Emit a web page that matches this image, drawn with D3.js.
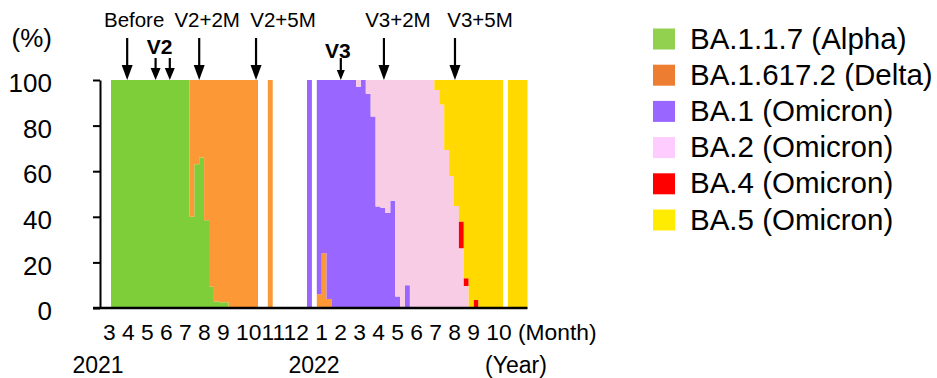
<!DOCTYPE html>
<html>
<head>
<meta charset="utf-8">
<script src="https://cdn.jsdelivr.net/npm/d3@7"></script>
<style>
  html, body { margin: 0; padding: 0; background: #fff; }
  svg { display: block; font-family: "Liberation Sans", Arial, sans-serif; }
</style>
</head>
<body>
<div id="chart"></div>
<script>
// weekly variant share (%), week 0 = first week of March 2021
const alpha = [
  100, 100, 100, 100, 100, 100, 100, 100, 100, 100,
  100, 100, 100, 100, 100, 100, 40, 63, 66, 38.5,
  9.3, 2.8, 2.5, 2.5, 0, 0, 0, 0, 0, 0,
  0, 0, 0, 0, 0, 0, 0, 0, 0, 0,
  0, 0, 0, 0, 0, 0, 0, 0, 0, 0,
  0, 0, 0, 0, 0, 0, 0, 0, 0, 0,
  0, 0, 0, 0, 0, 0, 0, 0, 0, 0,
  0, 0, 0, 0, 0, 0, 0, 0, 0, 0,
  0, 0, 0, 0, 0
]
const delta = [
  0, 0, 0, 0, 0, 0, 0, 0, 0, 0,
  0, 0, 0, 0, 0, 0, 60, 37, 34, 61.5,
  90.7, 97.2, 97.5, 97.5, 100, 100, 100, 100, 100, 100,
  0, 0, 100, 0, 0, 0, 0, 0, 0, 0,
  0, 0, 6, 24, 4, 0, 0, 0, 0, 0,
  0, 0, 0, 0, 0, 0, 0, 0, 0, 0,
  0, 0, 0, 0, 0, 0, 0, 0, 0, 0,
  0, 0, 0, 0, 0, 0, 0, 0, 0, 0,
  0, 0, 0, 0, 0
]
const ba1 = [
  0, 0, 0, 0, 0, 0, 0, 0, 0, 0,
  0, 0, 0, 0, 0, 0, 0, 0, 0, 0,
  0, 0, 0, 0, 0, 0, 0, 0, 0, 0,
  0, 0, 0, 0, 0, 0, 0, 0, 0, 0,
  100, 0, 94, 76, 96, 100, 100, 100, 100, 100,
  97, 100, 94, 84, 44.5, 44, 41.7, 47, 5, 0,
  10, 0, 0, 0, 0, 0, 0, 0, 0, 0,
  0, 0, 0, 0, 0, 0, 0, 0, 0, 0,
  0, 0, 0, 0, 0
]
const ba2 = [
  0, 0, 0, 0, 0, 0, 0, 0, 0, 0,
  0, 0, 0, 0, 0, 0, 0, 0, 0, 0,
  0, 0, 0, 0, 0, 0, 0, 0, 0, 0,
  0, 0, 0, 0, 0, 0, 0, 0, 0, 0,
  0, 0, 0, 0, 0, 0, 0, 0, 0, 0,
  3, 0, 6, 16, 55.5, 56, 58.3, 53, 95, 100,
  90, 100, 100, 100, 100, 100, 95.6, 89.3, 69.3, 57.9,
  44.7, 26.2, 9.6, 0, 0, 0, 0, 0, 0, 0,
  0, 0, 0, 0, 0
]
const ba4 = [
  0, 0, 0, 0, 0, 0, 0, 0, 0, 0,
  0, 0, 0, 0, 0, 0, 0, 0, 0, 0,
  0, 0, 0, 0, 0, 0, 0, 0, 0, 0,
  0, 0, 0, 0, 0, 0, 0, 0, 0, 0,
  0, 0, 0, 0, 0, 0, 0, 0, 0, 0,
  0, 0, 0, 0, 0, 0, 0, 0, 0, 0,
  0, 0, 0, 0, 0, 0, 0, 0, 0, 0,
  0, 11.7, 3.4, 0, 3.5, 0, 0, 0, 0, 0,
  0, 0, 0, 0, 0
]
const ba5 = [
  0, 0, 0, 0, 0, 0, 0, 0, 0, 0,
  0, 0, 0, 0, 0, 0, 0, 0, 0, 0,
  0, 0, 0, 0, 0, 0, 0, 0, 0, 0,
  0, 0, 0, 0, 0, 0, 0, 0, 0, 0,
  0, 0, 0, 0, 0, 0, 0, 0, 0, 0,
  0, 0, 0, 0, 0, 0, 0, 0, 0, 0,
  0, 0, 0, 0, 0, 0, 4.4, 10.7, 30.7, 42.1,
  55.3, 62.1, 87, 100, 96.5, 100, 100, 100, 100, 100,
  0, 100, 100, 100, 100
]

const seriesKeys = ['alpha', 'delta', 'ba1', 'ba2', 'ba4', 'ba5']
const seriesNames = ['BA.1.1.7 (Alpha)', 'BA.1.617.2 (Delta)', 'BA.1 (Omicron)', 'BA.2 (Omicron)', 'BA.4 (Omicron)', 'BA.5 (Omicron)']
const barColors = ['#7ece3a', '#fd9836', '#9966ff', '#f7cce4', '#ff0000', '#ffd900']
const legendColors = ['#92d050', '#ed7d31', '#9966ff', '#ffccff', '#ff0000', '#ffec00']

const monthLabels = ['3', '4', '5', '6', '7', '8', '9', '10', '11', '12', '1', '2', '3', '4', '5', '6', '7', '8', '9', '10']
const yearLabels = ['2021', '2022']
const yTicks = [0, 20, 40, 60, 80, 100]

// sampling time points (week index) and vaccine dose arrows
const timePoints = [
  { label: 'Before', week: 3.3 },
  { label: 'V2+2M', week: 18 },
  { label: 'V2+5M', week: 29.6 },
  { label: 'V3+2M', week: 55.7 },
  { label: 'V3+5M', week: 70.2 },
]
const doses = [
  { label: 'V2', weeks: [9.1, 12] },
  { label: 'V3', weeks: [46.9] },
]

const width = 937, height = 378
const nWeeks = alpha.length
const table = alpha.map((_, i) => ({
  week: i, alpha: alpha[i], delta: delta[i], ba1: ba1[i], ba2: ba2[i], ba4: ba4[i], ba5: ba5[i],
}))

const svg = d3.select('#chart').append('svg')
  .attr('width', width)
  .attr('height', height)

const x = d3.scaleLinear().domain([0, nWeeks]).range([111, 527.5])
const y = d3.scaleLinear().domain([0, 100]).range([308, 80])
const color = d3.scaleOrdinal().domain(seriesKeys).range(barColors)

const stacked = d3.stack().keys(seriesKeys)(table)

// each variant is one stepped band (one step per week), so weeks never show seams
const band = d3.area()
  .x(d => x(d.week))
  .y0(d => y(d.lo))
  .y1(d => y(d.hi))
  .curve(d3.curveStepAfter)

svg.append('g')
  .selectAll('path')
  .data(stacked)
  .join('path')
  .attr('fill', d => color(d.key))
  .attr('d', s => {
    const pts = s.map(p => ({ week: p.data.week, lo: p[0], hi: p[1] }))
    const last = pts[pts.length - 1]
    pts.push({ week: nWeeks, lo: last.lo, hi: last.hi })
    return band(pts)
  })

// y axis
const yAxis = svg.append('g')
  .attr('transform', 'translate(100,0)')
  .call(d3.axisLeft(y).tickValues(yTicks).tickSize(7).tickSizeOuter(0).tickPadding(41))
yAxis.select('.domain').attr('stroke-width', 2)
yAxis.selectAll('.tick line').attr('stroke-width', 2)
yAxis.selectAll('.tick text')
  .attr('font-size', 26)
  .attr('font-family', '"Liberation Sans", Arial, sans-serif')
  .attr('fill', '#000')
  .attr('dy', '0.45em')

svg.append('text')
  .attr('x', 52).attr('y', 47)
  .attr('text-anchor', 'end')
  .attr('font-size', 26)
  .text('(%)')

// x baseline
svg.append('line')
  .attr('x1', 93).attr('x2', x(nWeeks))
  .attr('y1', y(0)).attr('y2', y(0))
  .attr('stroke', '#000')
  .attr('stroke-width', 2.5)

// month labels, typed as one run of text like the original
const monthRow = svg.append('text')
  .attr('x', 103).attr('y', 340)
  .attr('font-size', 22.8)
  .attr('xml:space', 'preserve')
monthRow.selectAll('tspan')
  .data(monthLabels.concat(['(Month)']))
  .join('tspan')
  .text((d, i) => {
    if (i === 0) return d
    const prev = i - 1 < monthLabels.length ? monthLabels[i - 1] : ''
    const joined = i < 10 && prev.length === 2 && d.length === 2
    return (joined ? '' : ' ') + d
  })

const yearX = [98, 314]
svg.selectAll('.year')
  .data(yearLabels)
  .join('text')
  .attr('class', 'year')
  .attr('x', (d, i) => yearX[i])
  .attr('y', 373)
  .attr('text-anchor', 'middle')
  .attr('font-size', 23)
  .text(d => d)

svg.append('text')
  .attr('x', 516).attr('y', 373)
  .attr('text-anchor', 'middle')
  .attr('font-size', 23)
  .text('(Year)')

// arrows
function arrow(g, xPos, y0, y1, headW, headH) {
  g.append('line')
    .attr('x1', xPos).attr('x2', xPos)
    .attr('y1', y0).attr('y2', y1 - headH + 1)
    .attr('stroke', '#000')
    .attr('stroke-width', 2.2)
  g.append('path')
    .attr('d', `M${xPos - headW / 2},${y1 - headH}L${xPos + headW / 2},${y1 - headH}L${xPos},${y1}Z`)
    .attr('fill', '#000')
}

const labelShift = { 'Before': 7, 'V2+2M': 8, 'V2+5M': 27, 'V3+2M': 14, 'V3+5M': 25 }
const ann = svg.append('g')
timePoints.forEach(p => {
  arrow(ann, x(p.week), 38, 80, 11, 15)
  ann.append('text')
    .attr('x', x(p.week) + labelShift[p.label])
    .attr('y', 27)
    .attr('text-anchor', 'middle')
    .attr('font-size', 20.5)
    .text(p.label)
})

doses.forEach(d => {
  const small = d.weeks.length === 1
  d.weeks.forEach(w => arrow(ann, x(w), 58, 80, small ? 8 : 10, small ? 10 : 12))
  const cx = d3.mean(d.weeks, w => x(w)) - 3
  ann.append('text')
    .attr('x', cx)
    .attr('y', small ? 58 : 53.5)
    .attr('text-anchor', 'middle')
    .attr('font-size', 21)
    .attr('font-weight', 'bold')
    .text(d.label)
})

// legend
const legend = svg.append('g').attr('transform', 'translate(653,28.5)')
const item = legend.selectAll('g')
  .data(seriesNames)
  .join('g')
  .attr('transform', (d, i) => `translate(0,${i * 36.2})`)
item.append('rect')
  .attr('width', 22).attr('height', 21)
  .attr('fill', (d, i) => legendColors[i])
item.append('text')
  .attr('x', 37).attr('y', 20)
  .attr('font-size', 29.5)
  .text(d => d)
</script>
</body>
</html>
